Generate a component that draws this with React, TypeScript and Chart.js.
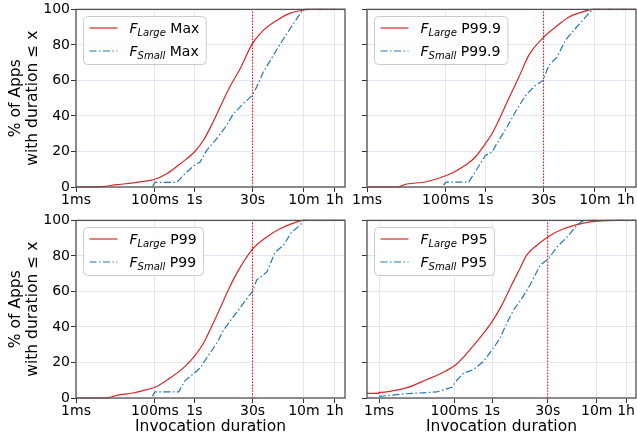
import React, { useEffect, useRef } from "react";
import { Chart, registerables } from "chart.js";

Chart.register(...registerables);

// ---------- data (x in seconds, y in % of apps) ----------
const xTickValues = [0.001, 0.1, 1, 30, 600, 3600];
const xTickLabels = ["1ms", "100ms", "1s", "30s", "10m", "1h"];
const yTickStep = 20;
const thresholdSeconds = 30;

const maxLarge: [number, number][] = [
  [0.001, 0], [0.0041, 0.2], [0.0107, 1.3], [0.028, 2.3], [0.062, 3.4], [0.091, 4.1],
  [0.2, 7.5], [0.44, 13.1], [1, 19.7], [1.7, 26.3], [3.0, 36.6], [4.5, 45], [7.9, 56.3],
  [14.5, 66.6], [29.5, 80.7], [56, 88.2], [123, 93.8], [269, 97.9], [575, 99.6], [800, 100], [8000, 100],
];
const maxSmall: [number, number][] = [
  [0.088, 0.4], [0.1, 2.6], [0.357, 2.6], [0.58, 7.5], [1, 12.2], [1.4, 14], [2.06, 20.6],
  [3.7, 27.2], [6.6, 34.7], [9.8, 41.3], [17.5, 47], [29.5, 51.6], [38, 56.3], [56, 64.7],
  [100, 74], [182, 83.5], [326, 92], [480, 97.5], [582, 100], [8000, 100],
];
const p999Large: [number, number][] = [
  [0.001, 0], [0.0058, 0], [0.0102, 1.7], [0.03, 2.8], [0.079, 5.6], [0.145, 7.9], [0.31, 12.2],
  [0.56, 16.9], [1, 24.4], [1.48, 30], [2.4, 39.4], [3.9, 49.7], [7.1, 61.9], [12.6, 74.1],
  [29, 84], [60, 90], [129, 95.6], [282, 98.5], [525, 100], [8000, 100],
];
const p999Small: [number, number][] = [
  [0.087, 1], [0.1, 2.8], [0.38, 2.8], [0.62, 10.3], [1, 17.8], [1.48, 19.7], [2.19, 26.3],
  [3.55, 33.8], [5.75, 42.2], [10.5, 51.6], [18.6, 57.2], [29, 60], [40.7, 68.5], [66, 73.2],
  [107, 82.6], [174, 88.2], [282, 93.4], [380, 96.6], [525, 100], [8000, 100],
];
const p99Large: [number, number][] = [
  [0.001, 0], [0.006, 0], [0.0107, 1.5], [0.028, 2.8], [0.062, 4.7], [0.112, 6.5], [0.24, 11.2],
  [0.52, 16.8], [1, 23.4], [1.7, 30.8], [2.75, 40.2], [4.5, 50.5], [7.2, 60.7], [13.2, 72],
  [29.5, 83.7], [69, 90.7], [148, 95.3], [324, 98.5], [575, 100], [8000, 100],
];
const p99Small: [number, number][] = [
  [0.087, 0.9], [0.1, 3.4], [0.4, 3.4], [0.575, 9.7], [1, 14], [1.38, 16.8], [2.04, 22.4],
  [3.7, 30.8], [5.5, 38.3], [9.8, 45.8], [17.4, 53.3], [29.5, 59.8], [38, 66.4], [69, 71],
  [112, 82.2], [182, 86], [295, 93.5], [479, 97.2], [575, 100], [8000, 100],
];
const p95Large: [number, number][] = [
  [0.0003, 2.6], [0.001, 2.6], [0.001, 3.2], [0.00234, 4.1], [0.0059, 6], [0.018, 10.3],
  [0.05, 14.4], [0.115, 19.1], [0.257, 27.1], [0.59, 36.4], [1, 43], [1.82, 52.3], [3.3, 63.6],
  [5.5, 72.9], [8.3, 80.4], [15.5, 86], [31.6, 91], [79, 95.3], [269, 98.5], [617, 99.6],
  [2090, 100], [8000, 100],
];
const p95Small: [number, number][] = [
  [0.001, 0.9], [0.0054, 2.4], [0.034, 3.4], [0.085, 6], [0.12, 10.3], [0.174, 14], [0.316, 15.9],
  [0.59, 20.6], [1, 27.1], [1.62, 33.6], [2.45, 42.1], [3.7, 49.5], [6.2, 56.1], [10.2, 63.6],
  [19, 74.8], [31.6, 78.5], [52.5, 85], [98, 90.7], [178, 97.2], [245, 99.6], [331, 100], [8000, 100],
];

// ---------- styles / layout ----------
const RED = "#d62728";
const BLUE = "#1f77b4";
const BLUE_DASH = [7, 2.5, 1.5, 2.5];
const GRID = "#e4e4f4";
const FONT = "'DejaVu Sans', sans-serif";

type Panel = {
  suffix: string;
  large: [number, number][];
  small: [number, number][];
  xMin: number;
  xMax: number;
  left: number; top: number; width: number; height: number;
  yAxisWidth: number; xAxisHeight: number; padTop: number; padRight: number;
  yTitle: boolean; xTitle: boolean; yLabels: boolean;
};

const panels: Panel[] = [
  { suffix: "Max", large: maxLarge, small: maxSmall, xMin: 0.001, xMax: 6600,
    left: 0, top: 0, width: 352, height: 211, yAxisWidth: 76, xAxisHeight: 24, padTop: 9, padRight: 7,
    yTitle: true, xTitle: false, yLabels: true },
  { suffix: "P99.9", large: p999Large, small: p999Small, xMin: 0.001, xMax: 6600,
    left: 352, top: 0, width: 285, height: 211, yAxisWidth: 15, xAxisHeight: 24, padTop: 9, padRight: 1,
    yTitle: false, xTitle: false, yLabels: false },
  { suffix: "P99", large: p99Large, small: p99Small, xMin: 0.001, xMax: 6600,
    left: 0, top: 211, width: 352, height: 229, yAxisWidth: 76, xAxisHeight: 42, padTop: 9, padRight: 7,
    yTitle: true, xTitle: true, yLabels: true },
  { suffix: "P95", large: p95Large, small: p95Small, xMin: 0.00048, xMax: 6600,
    left: 352, top: 211, width: 285, height: 229, yAxisWidth: 15, xAxisHeight: 42, padTop: 9, padRight: 1,
    yTitle: false, xTitle: true, yLabels: false },
];

function drawLegend(ctx: CanvasRenderingContext2D, area: any, suffix: string) {
  const fMain = `14px ${FONT}`;
  const fItal = `italic 14px ${FONT}`;
  const fSub = `italic 10px ${FONT}`;
  const entries = [
    { sub: "Large", color: RED, dash: [] as number[] },
    { sub: "Small", color: BLUE, dash: BLUE_DASH },
  ];
  ctx.save();
  const widthOf = (sub: string) => {
    ctx.font = fItal; let w = ctx.measureText("F").width;
    ctx.font = fSub; w += ctx.measureText(sub).width;
    ctx.font = fMain; w += ctx.measureText(" " + suffix).width;
    return w;
  };
  const textW = Math.max(...entries.map((e) => widthOf(e.sub)));
  const bx = Math.round(area.left + 7) + 0.5;
  const by = Math.round(area.top + 7) + 0.5;
  const bw = 6 + 28 + 12 + textW + 7;
  const bh = 48;
  const r = 4;
  ctx.beginPath();
  ctx.moveTo(bx + r, by);
  ctx.lineTo(bx + bw - r, by);
  ctx.arcTo(bx + bw, by, bx + bw, by + r, r);
  ctx.lineTo(bx + bw, by + bh - r);
  ctx.arcTo(bx + bw, by + bh, bx + bw - r, by + bh, r);
  ctx.lineTo(bx + r, by + bh);
  ctx.arcTo(bx, by + bh, bx, by + bh - r, r);
  ctx.lineTo(bx, by + r);
  ctx.arcTo(bx, by, bx + r, by, r);
  ctx.closePath();
  ctx.fillStyle = "rgba(255,255,255,0.85)";
  ctx.fill();
  ctx.strokeStyle = "#cccccc";
  ctx.lineWidth = 1;
  ctx.stroke();
  entries.forEach((e, i) => {
    const cy = by + 11.5 + i * 23;
    ctx.beginPath();
    ctx.strokeStyle = e.color;
    ctx.lineWidth = 1.2;
    ctx.setLineDash(e.dash);
    ctx.moveTo(bx + 6, cy);
    ctx.lineTo(bx + 34, cy);
    ctx.stroke();
    ctx.setLineDash([]);
    let tx = bx + 46;
    const base = cy + 5;
    ctx.fillStyle = "#000";
    ctx.textBaseline = "alphabetic";
    ctx.textAlign = "left";
    ctx.font = fItal; ctx.fillText("F", tx, base); tx += ctx.measureText("F").width;
    ctx.font = fSub; ctx.fillText(e.sub, tx, base + 2.5); tx += ctx.measureText(e.sub).width;
    ctx.font = fMain; ctx.fillText(" " + suffix, tx, base);
  });
  ctx.restore();
}

function PanelChart({ p }: { p: Panel }) {
  const ref = useRef<HTMLCanvasElement | null>(null);
  useEffect(() => {
    const canvas = ref.current!;
    const toXY = (arr: [number, number][]) => arr.map(([x, y]) => ({ x, y }));
    const clip = { left: 0, right: 0, top: 3, bottom: 3 };
    const overlay = {
      id: "overlay" + p.suffix,
      afterDatasetsDraw(chart: any) {
        const { ctx, chartArea: a } = chart;
        ctx.save();
        ctx.strokeStyle = "#505050";
        ctx.lineWidth = 1.3;
        ctx.strokeRect(a.left, a.top, a.right - a.left, a.bottom - a.top);
        ctx.restore();
        drawLegend(ctx, a, p.suffix);
      },
    };
    const chart = new Chart(canvas, {
      type: "line",
      data: {
        datasets: [
          { data: [{ x: thresholdSeconds, y: 0 }, { x: thresholdSeconds, y: 100 }], borderColor: "#ff0000",
            borderWidth: 1, borderDash: [1.5, 1.5], pointRadius: 0, fill: false, order: 0, clip } as any,
          { data: toXY(p.small), borderColor: BLUE, borderWidth: 1.2, borderDash: BLUE_DASH,
            pointRadius: 0, fill: false, tension: 0, order: 1, clip } as any,
          { data: toXY(p.large), borderColor: RED, borderWidth: 1.2, cubicInterpolationMode: "monotone",
            pointRadius: 0, fill: false, order: 2, clip } as any,
        ],
      },
      options: {
        animation: false,
        responsive: false,
        maintainAspectRatio: false,
        devicePixelRatio: 1,
        events: [],
        layout: { padding: { top: p.padTop, right: p.padRight, left: 0, bottom: 0 } },
        plugins: { legend: { display: false }, tooltip: { enabled: false } },
        scales: {
          x: {
            type: "logarithmic",
            min: p.xMin,
            max: p.xMax,
            afterBuildTicks: (s: any) => { s.ticks = xTickValues.map((v) => ({ value: v })); },
            afterFit: (s: any) => { s.height = p.xAxisHeight; },
            ticks: {
              autoSkip: false, maxRotation: 0, minRotation: 0, padding: 0,
              color: "#000", font: { family: FONT, size: 14 },
              callback: (_v: any, i: number) => xTickLabels[i],
            },
            grid: { color: GRID, tickColor: "#333", tickLength: 5, lineWidth: 1 },
            border: { display: false },
            title: {
              display: p.xTitle, text: "Invocation duration", color: "#000",
              font: { family: FONT, size: 15.5, lineHeight: 1.1 }, padding: { top: 0, bottom: 5 },
            },
          },
          y: {
            type: "linear",
            min: 0,
            max: 100,
            afterFit: (s: any) => { s.width = p.yAxisWidth; },
            ticks: {
              stepSize: yTickStep, padding: 1, color: "#000", font: { family: FONT, size: 14 },
              callback: (v: any) => (p.yLabels ? String(v) : ""),
            },
            grid: { color: GRID, tickColor: "#333", tickLength: 5, lineWidth: 1 },
            border: { display: false },
            title: {
              display: p.yTitle, text: ["% of Apps", "with duration ≤ x"], color: "#000",
              font: { family: FONT, size: 15.5, lineHeight: 1.1 }, padding: { top: 7, bottom: 0 },
            },
          },
        },
      } as any,
      plugins: [overlay],
    });
    return () => chart.destroy();
  }, [p]);
  return (
    <canvas
      ref={ref}
      width={p.width}
      height={p.height}
      style={{ position: "absolute", left: p.left, top: p.top, width: p.width, height: p.height }}
    />
  );
}

export default function App() {
  return (
    <div style={{ position: "absolute", left: 0, top: 0, width: 637, height: 440, background: "#fff" }}>
      {panels.map((p) => (
        <PanelChart key={p.suffix} p={p} />
      ))}
    </div>
  );
}
